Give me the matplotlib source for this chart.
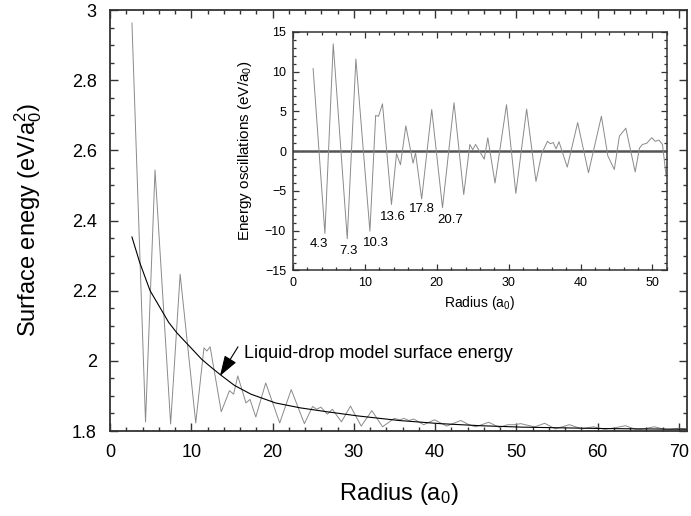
import numpy as np
import matplotlib
matplotlib.use('Agg')
import matplotlib.pyplot as plt
from matplotlib.ticker import MultipleLocator

plt.rcParams['font.family'] = ['Liberation Sans', 'DejaVu Sans']
plt.rcParams['mathtext.default'] = 'regular'

# main panel: surface energy with shell oscillations
osc_r = [2.70, 4.37, 5.54, 7.46, 8.63, 10.55, 11.56, 11.92, 12.32, 13.69, 14.70, 15.21,
         15.72, 16.73, 17.23, 17.94, 19.16, 20.88, 22.30, 23.92, 24.93, 25.44, 25.94, 26.75,
         27.36, 28.48, 29.59, 30.91, 32.22, 33.54, 34.96, 35.67, 36.17, 36.78, 37.39, 38.60,
         39.92, 41.44, 43.16, 44.17, 44.98, 45.99, 46.60, 47.92, 48.93, 49.74, 50.55, 51.26,
         52.27, 53.49, 54.81, 56.53, 58.05, 59.46, 60.88, 62.10, 63.41, 64.93, 66.96, 68.58,
         69.99, 71.0]
osc_e = [2.963, 1.826, 2.544, 1.820, 2.247, 1.823, 2.037, 2.028, 2.040, 1.855, 1.915, 1.905,
         1.957, 1.880, 1.890, 1.840, 1.937, 1.823, 1.918, 1.821, 1.870, 1.862, 1.868, 1.848,
         1.862, 1.826, 1.871, 1.814, 1.858, 1.812, 1.836, 1.832, 1.836, 1.830, 1.834, 1.818,
         1.832, 1.814, 1.830, 1.818, 1.812, 1.820, 1.825, 1.810, 1.818, 1.818, 1.821, 1.817,
         1.812, 1.822, 1.806, 1.818, 1.806, 1.812, 1.805, 1.809, 1.815, 1.803, 1.812, 1.803,
         1.808, 1.806]

# liquid-drop model curve
ld_r = [2.70, 3.66, 4.93, 6.20, 7.21, 8.22, 9.23, 10.25, 11.26, 12.27, 13.49, 15.31, 17.34,
        20.37, 23.41, 26.65, 30.50, 35.56, 40.63, 45.69, 50.76, 55.82, 60.88, 65.95, 71.0]
ld_e = [2.353, 2.28, 2.20, 2.15, 2.11, 2.08, 2.055, 2.03, 2.005, 1.985, 1.962, 1.93, 1.905,
        1.88, 1.866, 1.855, 1.843, 1.83, 1.821, 1.815, 1.811, 1.809, 1.807, 1.806, 1.805]

# inset: energy oscillations
ins_r = [2.8, 4.44, 5.6, 7.55, 8.75, 10.7, 11.5, 11.9, 12.45, 13.7, 14.4, 14.95,
         15.7, 16.7, 17.05, 17.9, 19.3, 20.8, 22.4, 23.75, 24.6, 25.0, 25.4, 26.6,
         27.1, 28.1, 29.7, 31.0, 32.5, 33.8, 34.6, 35.4, 35.8, 36.2, 36.6, 37.0,
         38.15, 39.6, 41.1, 42.9, 43.8, 44.7, 45.4, 46.3, 47.6, 48.2, 48.6, 49.2,
         49.9, 50.4, 50.9, 51.4, 51.9]
ins_e = [10.4, -10.35, 13.5, -11.0, 11.6, -10.06, 4.5, 4.4, 5.96, -6.7, -0.3, -1.7,
         3.2, -1.5, -0.2, -6.0, 5.25, -7.1, 6.1, -5.45, 0.85, 0.2, 0.85, -1.0,
         1.7, -4.0, 5.85, -5.3, 5.3, -3.8, -0.3, 1.25, 0.95, 1.1, 0.3, 1.2,
         -2.0, 3.6, -2.7, 4.4, -0.6, -2.3, 1.9, 2.9, -2.6, 0.4, 0.85, 1.0,
         1.7, 1.25, 1.4, 0.85, -3.1]

min_labels = ['4.3', '7.3', '10.3', '13.6', '17.8', '20.7']
min_label_x = [3.65, 7.7, 11.5, 13.85, 17.9, 21.8]
min_label_y = [-11.7, -12.6, -11.5, -8.25, -7.3, -8.7]

spine_c = '#333333'

fig = plt.figure(figsize=(6.91, 5.16), dpi=100)
ax = fig.add_axes([0.1592, 0.1647, 0.835, 0.8159])
ax.plot(osc_r, osc_e, color='#8a8a8a', lw=0.7)
ax.plot(ld_r, ld_e, color='black', lw=0.8)
ax.set_xlim(0, 71)
ax.set_ylim(1.8, 3)
ax.xaxis.set_major_locator(MultipleLocator(10))
ax.xaxis.set_minor_locator(MultipleLocator(2))
ax.set_yticks([1.8, 2.0, 2.2, 2.4, 2.6, 2.8, 3.0])
ax.set_yticklabels(['1.8', '2', '2.2', '2.4', '2.6', '2.8', '3'])
ax.yaxis.set_minor_locator(MultipleLocator(0.05))
ax.tick_params(which='both', direction='in', top=True, right=True, labelsize=13,
               color=spine_c, width=1.0)
ax.tick_params(which='major', length=6, pad=9.5)
ax.tick_params(which='minor', length=3)
for s in ax.spines.values():
    s.set_color(spine_c)
    s.set_linewidth(1.3)
ax.set_xlabel('Radius (a$_0$)', fontsize=17, labelpad=14)
ax.set_ylabel('Surface enegy (eV/a$_0^2$)', fontsize=17, labelpad=20)

# label and arrow pointing at the liquid-drop curve
ax.text(16.5, 2.022, 'Liquid-drop model surface energy', fontsize=13, va='center', ha='left')
ax.annotate('', xy=(13.53, 1.957), xytext=(15.75, 2.04),
            arrowprops=dict(arrowstyle='-|>,head_length=0.9,head_width=0.3',
                            color='black', lw=0.8, shrinkA=0, shrinkB=0,
                            mutation_scale=14))

# inset
ax2 = fig.add_axes([0.424, 0.4758, 0.541, 0.4622])
ax2.axhline(0, color='#555555', lw=1.8)
ax2.plot(ins_r, ins_e, color='#8a8a8a', lw=0.7)
for t, xx, yy in zip(min_labels, min_label_x, min_label_y):
    ax2.text(xx, yy, t, fontsize=9.5, ha='center', va='center')
ax2.set_xlim(0, 52)
ax2.set_ylim(-15, 15)
ax2.xaxis.set_major_locator(MultipleLocator(10))
ax2.xaxis.set_minor_locator(MultipleLocator(2))
ax2.yaxis.set_major_locator(MultipleLocator(5))
ax2.yaxis.set_minor_locator(MultipleLocator(1))
ax2.tick_params(which='both', direction='in', top=True, right=True, labelsize=9,
                color=spine_c, width=0.9)
ax2.tick_params(which='major', length=4, pad=5)
ax2.tick_params(which='minor', length=2.2)
for s in ax2.spines.values():
    s.set_color(spine_c)
    s.set_linewidth(1.1)
ax2.set_xlabel('Radius (a$_0$)', fontsize=10, labelpad=3)
ax2.set_ylabel('Energy oscillations (eV/a$_0$)', fontsize=11, labelpad=8)

fig.savefig('out.png', dpi=100)
